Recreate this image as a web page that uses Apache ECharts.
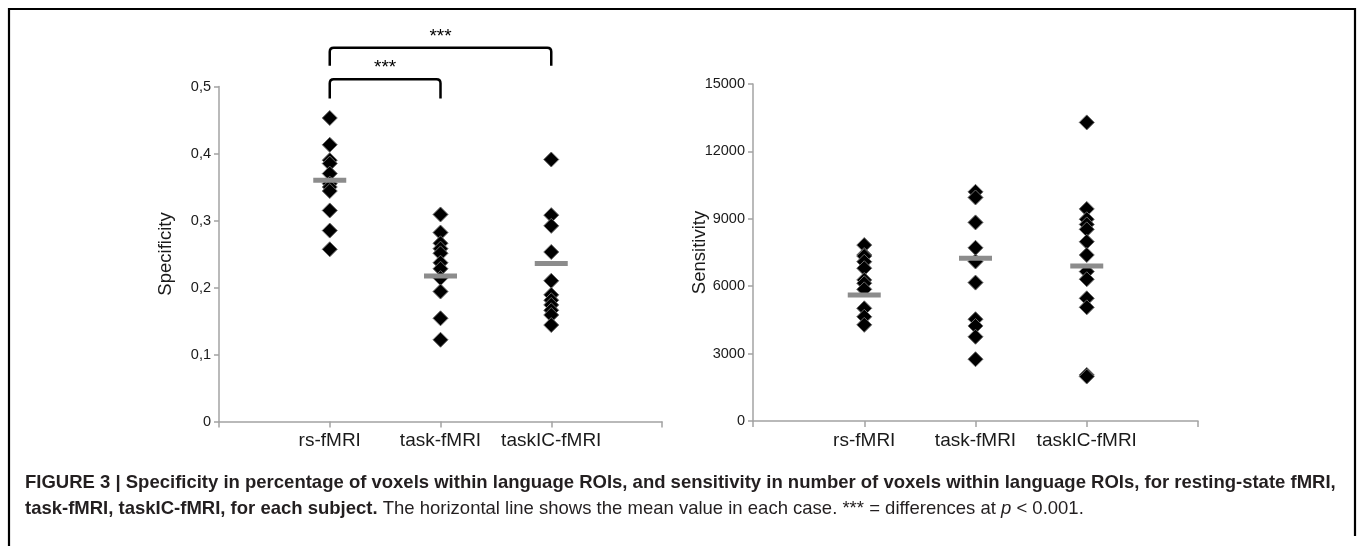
<!DOCTYPE html>
<html>
<head>
<meta charset="utf-8">
<script src="https://cdn.jsdelivr.net/npm/echarts@6/dist/echarts.min.js"></script>
<style>
html,body{margin:0;padding:0;background:#fff;}
#chart{width:1358px;height:546px;}
</style>
</head>
<body>
<div id="chart"></div>
<script>
// ---------- data ----------
const categories = ['rs-fMRI', 'task-fMRI', 'taskIC-fMRI'];

const specRs     = [0.453, 0.413, 0.390, 0.385, 0.370, 0.355, 0.350, 0.344, 0.315, 0.285, 0.257];
const specTask   = [0.309, 0.282, 0.266, 0.258, 0.251, 0.237, 0.228, 0.214, 0.194, 0.154, 0.122];
const specTaskIC = [0.391, 0.308, 0.292, 0.253, 0.210, 0.189, 0.181, 0.174, 0.166, 0.159, 0.144];
const specMeans  = [0.360, 0.217, 0.236];

const sensRs     = [7830, 7390, 7340, 7090, 6800, 6280, 6130, 5860, 5015, 4640, 4280];
const sensTask   = [10200, 9950, 8840, 7710, 7100, 6160, 4530, 4230, 3750, 2750];
const sensTaskIC = [13290, 9440, 8980, 8750, 8530, 7980, 7390, 6650, 6310, 5460, 5060, 2050, 1980];
const sensMeans  = [5610, 7240, 6900];

const specTickLabels = ['0', '0,1', '0,2', '0,3', '0,4', '0,5'];
const sensTickLabels = ['0', '3000', '6000', '9000', '12000', '15000'];

// significance brackets: [from category, to category, label]
const brackets = [[1, 2, '***'], [1, 3, '***']];
const bracketLevels = [0.511, 0.558];
const bracketLegs = [0.482, 0.531];

// ---------- helpers ----------
function points(groups) {
  const out = [];
  groups.forEach((g, i) => g.forEach(v => out.push([i + 1, v])));
  return out;
}
function means(arr) { return arr.map((v, i) => [i + 1, v]); }

const FONT = 'Liberation Sans, Arial, sans-serif';
const axisGray = '#a3a3a3';

function xAxisCfg(gridIndex) {
  return {
    type: 'value', gridIndex, min: 0, max: 4, interval: 1,
    splitLine: { show: false },
    axisLine: { lineStyle: { color: axisGray, width: 1.5 } },
    axisTick: { length: 6, lineStyle: { color: axisGray, width: 1.5 } },
    axisLabel: {
      margin: 10, fontSize: 19, color: '#1a1a1a', fontFamily: FONT,
      formatter: v => categories[v - 1] || ''
    }
  };
}
function yAxisCfg(gridIndex, max, interval, labels, name) {
  return {
    type: 'value', gridIndex, min: 0, max, interval,
    name, nameLocation: 'middle', nameGap: 44, nameMoveOverlap: false,
    nameTextStyle: { fontSize: 18.5, color: '#1a1a1a', fontFamily: FONT },
    splitLine: { show: false },
    axisLine: { show: true, lineStyle: { color: axisGray, width: 1.5 } },
    axisTick: { show: true, length: 5, lineStyle: { color: axisGray, width: 1.5 } },
    axisLabel: {
      margin: 8, fontSize: 14.5, color: '#1a1a1a', fontFamily: FONT,
      formatter: v => labels[Math.round(v / interval)]
    }
  };
}

const diamondStyle = { color: '#000', borderColor: '#6a6a6a', borderWidth: 1, opacity: 1 };
const meanStyle = { color: '#8c8c8c', opacity: 1 };

const chart = echarts.init(document.getElementById('chart'), null, { renderer: 'canvas' });

const option = {
  animation: false,
  backgroundColor: '#fff',
  grid: [
    { left: 219, top: 86.5, width: 443, height: 335 },
    { left: 753, top: 84, width: 445, height: 337 }
  ],
  xAxis: [xAxisCfg(0), xAxisCfg(1)],
  yAxis: [
    yAxisCfg(0, 0.5, 0.1, specTickLabels, 'Specificity'),
    yAxisCfg(1, 15000, 3000, sensTickLabels, 'Sensitivity')
  ],
  series: [
    {
      type: 'scatter', xAxisIndex: 0, yAxisIndex: 0,
      symbol: 'diamond', symbolSize: 15, itemStyle: diamondStyle,
      data: points([specRs, specTask, specTaskIC]), z: 2
    },
    {
      type: 'scatter', xAxisIndex: 0, yAxisIndex: 0,
      symbol: 'rect', symbolSize: [33, 5], itemStyle: meanStyle,
      data: means(specMeans), z: 3
    },
    {
      type: 'scatter', xAxisIndex: 1, yAxisIndex: 1,
      symbol: 'diamond', symbolSize: 15, itemStyle: diamondStyle,
      data: points([sensRs, sensTask, sensTaskIC]), z: 2
    },
    {
      type: 'scatter', xAxisIndex: 1, yAxisIndex: 1,
      symbol: 'rect', symbolSize: [33, 5], itemStyle: meanStyle,
      data: means(sensMeans), z: 3
    },
    {
      type: 'custom', xAxisIndex: 0, yAxisIndex: 0, clip: false, z: 4,
      data: brackets.map(b => [b[0], b[1]]),
      renderItem: function (params, api) {
        const i = params.dataIndex;
        const a = api.coord([api.value(0), bracketLegs[i]]);
        const t = api.coord([api.value(1), bracketLevels[i]]);
        const x1 = a[0], x2 = t[0], yb = a[1], yt = t[1], r = 4;
        const path = 'M' + x1 + ' ' + yb + ' L' + x1 + ' ' + (yt + r) +
          ' Q' + x1 + ' ' + yt + ' ' + (x1 + r) + ' ' + yt +
          ' L' + (x2 - r) + ' ' + yt +
          ' Q' + x2 + ' ' + yt + ' ' + x2 + ' ' + (yt + r) +
          ' L' + x2 + ' ' + yb;
        return {
          type: 'group',
          children: [
            { type: 'path', shape: { pathData: path },
              style: { fill: null, stroke: '#000', lineWidth: 2.5 } },
            { type: 'text',
              style: { text: brackets[i][2], x: (x1 + x2) / 2, y: yt - 11,
                       align: 'center', verticalAlign: 'middle',
                       font: '19px ' + FONT, fill: '#000' } }
          ]
        };
      }
    }
  ],
  graphic: [
    { type: 'polyline', shape: { points: [[9, 546], [9, 9], [1355, 9], [1355, 536]] },
      style: { fill: null, stroke: '#000', lineWidth: 2.2 } },
    { type: 'text', x: 25, y: 483,
      style: {
        text: 'FIGURE 3 | Specificity in percentage of voxels within language ROIs, and sensitivity in number of voxels within language ROIs, for resting-state fMRI,',
        font: 'bold 18.5px ' + FONT, fill: '#231f20', verticalAlign: 'middle'
      } },
    { type: 'text', x: 25, y: 509,
      style: {
        text: '{b|task-fMRI, taskIC-fMRI, for each subject.}{n| The horizontal line shows the mean value in each case. *** = differences at }{i|p}{n| < 0.001.}',
        verticalAlign: 'middle', fill: '#231f20',
        rich: {
          b: { font: 'bold 18.5px ' + FONT, fill: '#231f20' },
          n: { font: '18.5px ' + FONT, fill: '#231f20' },
          i: { font: 'italic 18.5px ' + FONT, fill: '#231f20' }
        }
      } }
  ]
};
chart.setOption(option);
</script>
</body>
</html>
